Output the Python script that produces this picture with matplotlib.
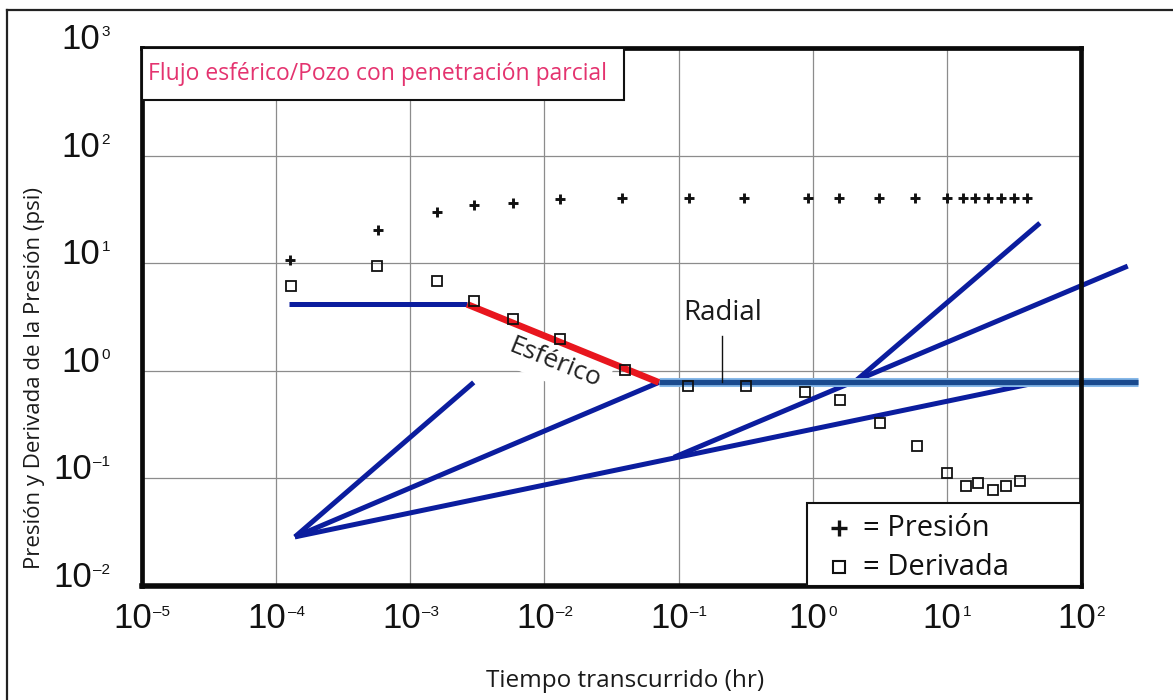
import matplotlib
matplotlib.use("Agg")
import matplotlib.pyplot as plt  # noqa: E402
from matplotlib import font_manager  # noqa: E402
from matplotlib.patches import Rectangle  # noqa: E402
from matplotlib.ticker import NullLocator  # noqa: E402

# Datos de la prueba: tiempo (hr), presión y derivada (psi)
t_presion = [1.26e-4, 5.7e-4, 1.57e-3, 2.97e-3, 5.85e-3, 1.31e-2, 0.038, 0.12,
             0.31, 0.92, 1.56, 3.1, 5.8, 10.0, 13.2, 16.3, 20.2, 25.3, 31.6, 39.5]
presion = [10.6, 20.5, 29.9, 35.0, 36.2, 39.1, 40.0, 40.3, 40.3, 40.3, 40.3,
           40.3, 40.3, 40.3, 40.3, 40.3, 40.3, 40.3, 40.3, 40.3]
t_derivada = [1.28e-4, 5.65e-4, 1.57e-3, 3.0e-3, 5.85e-3, 1.31e-2, 0.040,
              0.118, 0.318, 0.87, 1.60, 3.15, 6.04, 10.0, 13.9, 17.1, 21.9,
              27.8, 34.9]
derivada = [6.2, 9.5, 6.8, 4.45, 3.05, 1.97, 1.01, 0.716, 0.716, 0.64, 0.535,
            0.328, 0.202, 0.113, 0.085, 0.0905, 0.0786, 0.085, 0.0944]

# Rectas de diagnóstico (extremos en t, y)
meseta_t = [1.25e-4, 2.65e-3]
meseta_y = [4.15, 4.15]
esferico_t = [2.65e-3, 0.0713]
esferico_y = [4.15, 0.78]
radial_t = [0.0713, 265.0]
radial_y = [0.78, 0.78]
abanico_t = [[1.38e-4, 2.97e-3], [1.38e-4, 0.0713], [1.38e-4, 47.5],
             [0.0923, 223.0], [2.03, 49.4]]
abanico_y = [[0.0286, 0.78], [0.0286, 0.78], [0.0286, 0.78],
             [0.157, 9.4], [0.78, 23.6]]

decadas_x = list(range(-5, 3))
decadas_y = list(range(-2, 4))

nombres = {f.name for f in font_manager.fontManager.ttflist}
ANGOSTA = "Liberation Sans Narrow" if "Liberation Sans Narrow" in nombres else "Liberation Sans"
TEXTO = ["Open Sans", "DejaVu Sans"]

AZUL = "#0b1d9e"
ROJO = "#e8161e"

fig = plt.figure(figsize=(11.73, 7.0), dpi=100)
ax = fig.add_axes([142 / 1173, 1 - 586 / 700, 939 / 1173, 538 / 700])
ax.set_xscale("log")
ax.set_yscale("log")
ax.set_xlim(1e-5, 1e2)
ax.set_ylim(1e-2, 1e3)
ax.set_xticks([10.0 ** e for e in decadas_x])
ax.set_yticks([10.0 ** e for e in decadas_y])
ax.xaxis.set_minor_locator(NullLocator())
ax.yaxis.set_minor_locator(NullLocator())
ax.tick_params(length=0, labelbottom=False, labelleft=False)
ax.grid(True, color="#8c8c8c", lw=0.9, zorder=0.5)
ax.set_axisbelow(True)
for lado, sp in ax.spines.items():
    sp.set_linewidth(4.0 if lado == "bottom" else 3.4)
    sp.set_color("#0a0a0a")

# rectas
ax.plot(meseta_t, meseta_y, color=AZUL, lw=3.6, solid_capstyle="butt", zorder=2)
for tt, yy in zip(abanico_t, abanico_y):
    ax.plot(tt, yy, color=AZUL, lw=3.6, solid_capstyle="butt", zorder=2,
            clip_on=False)
ax.plot(radial_t, radial_y, color="#86b8e8", lw=6.5, solid_capstyle="butt",
        zorder=2.1, clip_on=False)
ax.plot(radial_t, radial_y, color="#1a4a8e", lw=3.8, solid_capstyle="butt",
        zorder=2.2, clip_on=False)
ax.plot(esferico_t, esferico_y, color=ROJO, lw=4.8, solid_capstyle="butt",
        zorder=2.3)

# datos
ax.plot(t_presion, presion, ls="none", marker="+", ms=7, mew=2.1,
        color="#111111", zorder=3)
ax.plot(t_derivada, derivada, ls="none", marker="s", ms=7, mew=1.3,
        mfc="none", mec="#111111", zorder=3)

# anotaciones
ax.text(0.0119, 1.19, "Esférico", rotation=-22, rotation_mode="anchor",
        ha="center", va="center", fontsize=19, family=TEXTO, color="#222222",
        zorder=1.5, bbox=dict(facecolor="white", edgecolor="none", pad=6))
ax.text(0.212, 3.47, "Radial", ha="center", va="center", fontsize=20,
        family=TEXTO, color="#1a1a1a", zorder=3)
ax.plot([0.212, 0.212], [2.11, 0.78], color="#111111", lw=1.0, zorder=2.5)

# recuadro del título
ax.add_patch(Rectangle((0, 0.903), 0.513, 0.097, transform=ax.transAxes,
                       facecolor="white", edgecolor="#111111", lw=1.5,
                       zorder=4))
ax.text(0.0065, 0.9515, "Flujo esférico/Pozo con penetración parcial",
        transform=ax.transAxes, ha="left", va="center", fontsize=16.5,
        family=TEXTO, color="#e4336f", zorder=5)

# leyenda
ax.add_patch(Rectangle((0.708, 0), 0.292, 0.154, transform=ax.transAxes,
                       facecolor="white", edgecolor="#111111", lw=1.5,
                       zorder=4))
ax.plot([0.7423], [0.1078], transform=ax.transAxes, marker="+", ms=11,
        mew=2.4, color="#111111", zorder=5)
ax.plot([0.7423], [0.0353], transform=ax.transAxes, marker="s", ms=8.5,
        mew=1.5, mfc="white", mec="#111111", zorder=5)
ax.text(0.7678, 0.1078, "= Presión", transform=ax.transAxes, ha="left",
        va="center", fontsize=21, family=TEXTO, color="#111111", zorder=5)
ax.text(0.7678, 0.0353, "= Derivada", transform=ax.transAxes, ha="left",
        va="center", fontsize=21, family=TEXTO, color="#111111", zorder=5)


def exponente(e):
    return str(e).replace("-", "–")


# etiquetas de potencias de diez
etiquetas = []
for e in decadas_x:
    b = ax.annotate("10", (10.0 ** e, 0), xycoords=("data", "axes fraction"),
                    xytext=(0, -42), textcoords="offset pixels", ha="left",
                    va="baseline", fontsize=25, family=ANGOSTA,
                    color="#111111", annotation_clip=False)
    s = ax.annotate(exponente(e), (10.0 ** e, 0),
                    xycoords=("data", "axes fraction"), xytext=(0, -30),
                    textcoords="offset pixels", ha="left", va="baseline",
                    fontsize=11, family=ANGOSTA, color="#111111",
                    annotation_clip=False)
    etiquetas.append(("x", b, s))
for e in decadas_y:
    b = ax.annotate("10", (0, 10.0 ** e), xycoords=("axes fraction", "data"),
                    xytext=(0, -1), textcoords="offset pixels", ha="left",
                    va="baseline", fontsize=25, family=ANGOSTA,
                    color="#111111", annotation_clip=False)
    s = ax.annotate(exponente(e), (0, 10.0 ** e),
                    xycoords=("axes fraction", "data"), xytext=(0, 12),
                    textcoords="offset pixels", ha="left", va="baseline",
                    fontsize=11, family=ANGOSTA, color="#111111",
                    annotation_clip=False)
    etiquetas.append(("y", b, s))

fig.canvas.draw()
rend = fig.canvas.get_renderer()
for eje, b, s in etiquetas:
    wb = b.get_window_extent(rend).width
    ws = s.get_window_extent(rend).width
    bx, by = b.xyann
    sx, sy = s.xyann
    if eje == "x":
        izq = -(wb + 1 + ws) / 2
        b.xyann = (izq, by)
        s.xyann = (izq + wb + 1, sy)
    else:
        b.xyann = (-32 - ws - 1 - wb, by)
        s.xyann = (-32 - ws, sy)

fig.text(625 / 1173, 1 - 687 / 700, "Tiempo transcurrido (hr)", ha="center",
         va="baseline", fontsize=17.5, family=TEXTO, color="#1a1a1a")
fig.text(35 / 1173, 1 - 378 / 700, "Presión y Derivada de la Presión (psi)",
         rotation=90, ha="center", va="center", fontsize=16, family=TEXTO,
         color="#1a1a1a")

# marco exterior (superior e izquierdo)
fig.add_artist(plt.Line2D([7 / 1173, 1], [1 - 10 / 700, 1 - 10 / 700],
                          color="#222222", lw=1.6))
fig.add_artist(plt.Line2D([7 / 1173, 7 / 1173], [0, 1 - 10 / 700],
                          color="#222222", lw=1.6))

fig.savefig("out.png", dpi=100)
